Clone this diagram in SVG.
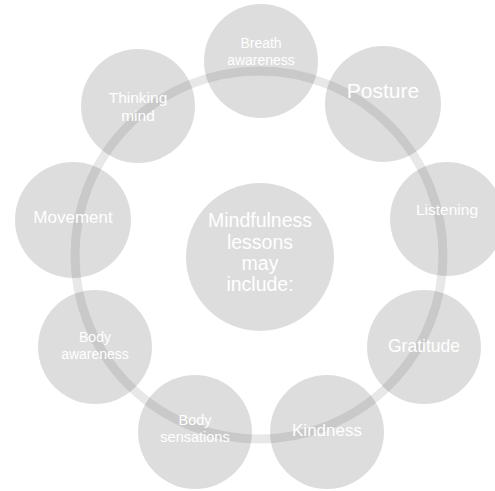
<svg xmlns="http://www.w3.org/2000/svg" width="495" height="491" viewBox="0 0 495 491">
<style>
.n{fill:#000;fill-opacity:0.135}
.t{fill:#fff;font-family:"Liberation Sans",Arial,sans-serif;text-anchor:middle}
.ring{fill:none;stroke:#000;stroke-opacity:0.09;stroke-width:9}
</style>
<rect width="495" height="491" fill="#fff"/>
<g id="connectors">
<circle class="ring" cx="259" cy="255" r="184"/>
</g>
<g id="center">
<circle class="n" cx="260" cy="257" r="74"/>
<text class="t" font-size="19.5"><tspan x="260" y="227">Mindfulness</tspan><tspan x="260" y="249">lessons</tspan><tspan x="260" y="270">may</tspan><tspan x="260" y="291">include:</tspan></text>
</g>
<g id="breath">
<circle class="n" cx="261" cy="61" r="57"/>
<text class="t" font-size="14"><tspan x="261" y="48">Breath</tspan><tspan x="261" y="65">awareness</tspan></text>
</g>
<g id="posture">
<circle class="n" cx="383" cy="104" r="58"/>
<text class="t" font-size="21" x="383" y="98">Posture</text>
</g>
<g id="listening">
<circle class="n" cx="447" cy="219" r="57"/>
<text class="t" font-size="15.5" x="447" y="215">Listening</text>
</g>
<g id="gratitude">
<circle class="n" cx="424" cy="347" r="57"/>
<text class="t" font-size="17.5" x="424" y="352">Gratitude</text>
</g>
<g id="kindness">
<circle class="n" cx="327" cy="432" r="57"/>
<text class="t" font-size="17" x="327" y="436">Kindness</text>
</g>
<g id="bodysensations">
<circle class="n" cx="195" cy="432" r="57"/>
<text class="t" font-size="14.5"><tspan x="195" y="425">Body</tspan><tspan x="195" y="442">sensations</tspan></text>
</g>
<g id="bodyawareness">
<circle class="n" cx="95" cy="347" r="57"/>
<text class="t" font-size="14"><tspan x="95" y="342">Body</tspan><tspan x="95" y="359">awareness</tspan></text>
</g>
<g id="movement">
<circle class="n" cx="73" cy="220" r="58"/>
<text class="t" font-size="17" x="73" y="223">Movement</text>
</g>
<g id="thinking">
<circle class="n" cx="138" cy="106" r="57"/>
<text class="t" font-size="15.5"><tspan x="138" y="103">Thinking</tspan><tspan x="138" y="121">mind</tspan></text>
</g>
</svg>
